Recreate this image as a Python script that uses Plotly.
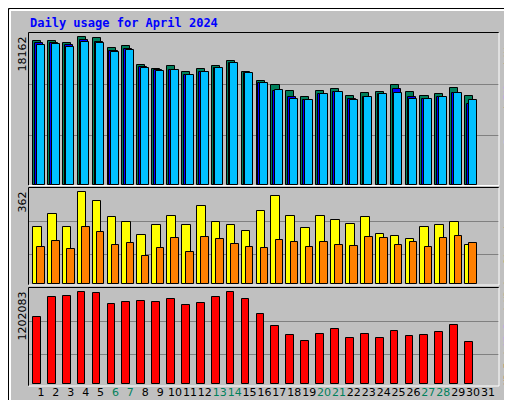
import plotly.graph_objects as go

days = list(range(1, 32))
hits = [17670,17670,17425,18162,18040,16810,17060,14725,14235,14600,13865,14235,14600,15215,13865,
        12760,12270,11535,10800,11535,11780,10920,11290,11410,12270,11410,10920,11165,11900,10920,None]
files = [17425,17425,17180,17790,17550,16440,16690,14480,14110,14110,13500,13865,14355,14970,13740,
         12520,11535,10800,10430,11165,11410,10550,10800,11165,11780,10800,10550,10800,11290,9940,None]
pages = [17180,17300,16930,17550,17430,16320,16560,14355,13990,14110,13500,13865,14355,14970,13740,
         12520,11660,10550,10430,11165,11410,10430,10800,11165,11290,10550,10550,10800,11290,10430,None]
visits = [224,275,224,362,326,263,244,192,232,267,232,307,244,232,208,287,346,267,220,267,251,236,263,196,188,176,224,232,244,153,None]
sites = [145,168,137,224,204,153,161,109,141,180,125,184,176,157,145,141,172,164,145,164,153,149,184,180,153,164,145,180,188,161,None]
kbytes = [873000,1136000,1149000,1202083,1189000,1044000,1070000,1084000,1070000,1110000,1031000,1057000,1136000,1202083,1110000,
          913000,755000,636000,570000,662000,715000,597000,662000,597000,689000,623000,636000,676000,768000,557000,None]
weekend = {6,7,13,14,20,21,27,28}
ticktext = [f"<span style='color:#00805C'>{d}</span>" if d in weekend else str(d) for d in days]

BG = "#C0C0C0"
fig = go.Figure()
def bar(y, color, off, w, xa, ya):
    fig.add_bar(x=days, y=y, offset=off, width=w, marker=dict(color=color, line=dict(color="black", width=1)),
                xaxis=xa, yaxis=ya, showlegend=False, hoverinfo="skip")

bar(hits, "#00805C", -0.53, 0.54, "x", "y")
bar(files, "#0000FF", -0.40, 0.54, "x", "y")
bar(pages, "#00C0FF", -0.29, 0.54, "x", "y")
bar(visits, "#FFFF00", -0.53, 0.58, "x2", "y2")
bar(sites, "#FF8000", -0.24, 0.50, "x2", "y2")
bar(kbytes, "#FF0000", -0.53, 0.52, "x3", "y3")

xr = [0.2, 31.74]
xdom = [21/512, 491/512]
r1, r2, r3 = 18653, 379, 1258450
common_x = dict(range=xr, domain=xdom, showgrid=False, zeroline=False, fixedrange=True)
common_y = dict(showgrid=True, gridcolor="#808080", gridwidth=1, zeroline=False, showticklabels=False, ticks="")
fig.update_layout(
    width=512, height=400, margin=dict(l=0, r=0, t=0, b=0),
    paper_bgcolor=BG, plot_bgcolor=BG, barmode="overlay", bargap=0,
    font=dict(family="DejaVu Sans", size=11, color="black"),
    xaxis=dict(**common_x, anchor="y", showticklabels=False),
    xaxis2=dict(**common_x, anchor="y2", showticklabels=False),
    xaxis3=dict(**common_x, anchor="y3", tickmode="array", tickvals=days, ticktext=ticktext,
                ticks="", tickangle=0, automargin=False, tickfont=dict(family="DejaVu Sans", size=11)),
    yaxis=dict(**common_y, domain=[1-177/400, 1-25/400], range=[0, r1], tickvals=[r1*50/152, r1*101/152]),
    yaxis2=dict(**common_y, domain=[1-276/400, 1-180/400], range=[0, r2], tickvals=[r2*30/96, r2*62.7/96]),
    yaxis3=dict(**common_y, domain=[1-376/400, 1-280/400], range=[0, r3], tickvals=[r3*29.7/96, r3*62.7/96]),
)

shapes = []
def box(x0, y0, x1, y1, tl, br, w=1):
    Y = lambda v: 1 - v/400
    X = lambda v: v/512
    shapes.append(dict(type="line", xref="paper", yref="paper", x0=X(x0), y0=Y(y0), x1=X(x1), y1=Y(y0), line=dict(color=tl, width=w)))
    shapes.append(dict(type="line", xref="paper", yref="paper", x0=X(x0), y0=Y(y0), x1=X(x0), y1=Y(y1), line=dict(color=tl, width=w)))
    shapes.append(dict(type="line", xref="paper", yref="paper", x0=X(x0), y0=Y(y1), x1=X(x1), y1=Y(y1), line=dict(color=br, width=w)))
    shapes.append(dict(type="line", xref="paper", yref="paper", x0=X(x1), y0=Y(y0), x1=X(x1), y1=Y(y1), line=dict(color=br, width=w)))

box(0.5, 0.5, 511.5, 399.5, "black", "black")
box(2, 2, 508, 397, "white", "#808080", 2)
box(20.5, 24.5, 491, 177.5, "black", "white")
box(20.5, 179.5, 491, 277, "black", "white")
box(20.5, 279.5, 491, 378, "black", "white")
fig.update_layout(shapes=shapes)

mono = "DejaVu Sans Mono"
ann = [
    dict(text="<b>Daily usage for April 2024</b>", x=20/512, y=1-15/400, xanchor="left", yanchor="middle",
         font=dict(family=mono, size=12, color="#0000FF")),
    dict(text="18162", x=14/512, y=1-27/400, xanchor="center", yanchor="top", textangle=-90, font=dict(size=11)),
    dict(text="362", x=14/512, y=1-182/400, xanchor="center", yanchor="top", textangle=-90, font=dict(size=11)),
    dict(text="1202083", x=14/512, y=1-282/400, xanchor="center", yanchor="top", textangle=-90, font=dict(size=11)),
]
STEP = 5.5
def side(bottom, segs):
    k = 0
    for txt, col in segs:
        n = len(txt)
        yc = bottom - (k + n/2) * STEP
        ann.append(dict(text=txt, x=500/512, y=1-yc/400, xanchor="center", yanchor="middle", textangle=-90,
                        font=dict(family=mono, size=9, color=col)))
        k += n
side(137, [("Pages", "#00C0FF"), (" / ", "black"), ("Files", "#0000FF"), (" / ", "black"), ("Hits", "#00805C")])
side(257, [("Sites", "#FF8000"), (" / ", "black"), ("Visits", "#FFFF00")])
side(377, [("KB F", "#FF0000"), (" / ", "black"), ("KB In", "#0000FF"), (" / ", "black"), ("KB Out", "#00805C")])
for a in ann:
    a.update(xref="paper", yref="paper", showarrow=False)
fig.update_layout(annotations=ann)
fig.write_html("out.html", config={"displayModeBar": False})
